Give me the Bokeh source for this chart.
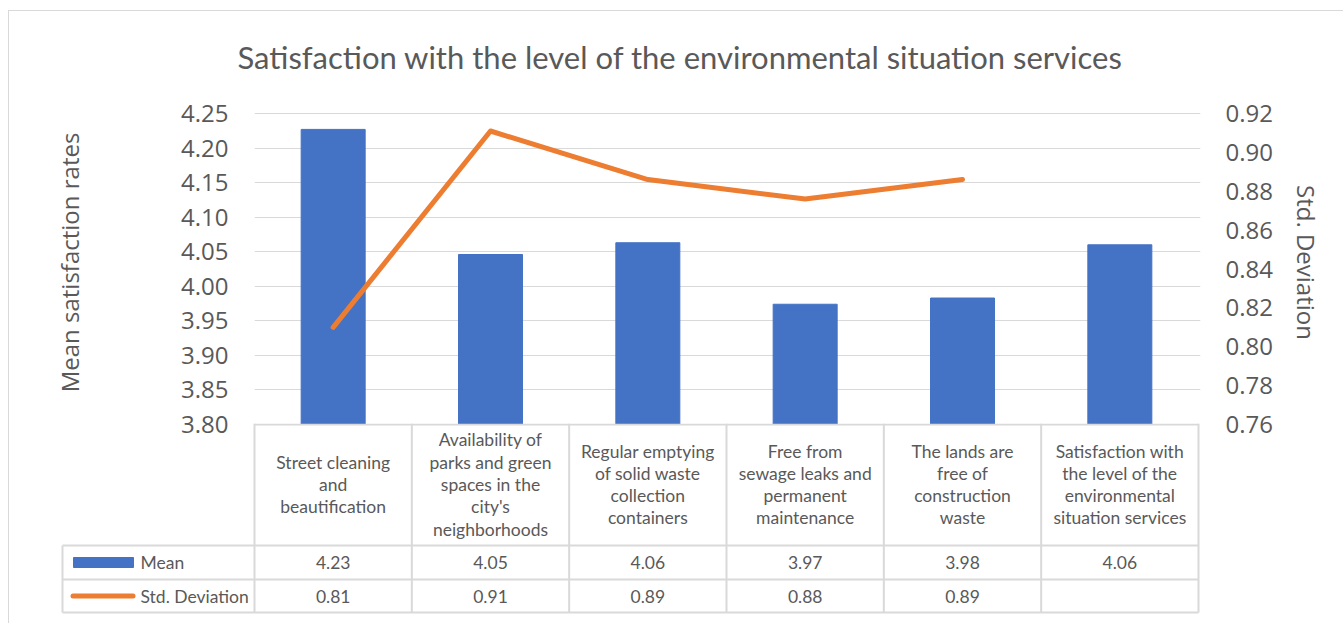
from bokeh.plotting import figure
from bokeh.models import Range1d, LinearAxis, FixedTicker, Title, PrintfTickFormatter
from bokeh.embed import file_html
from bokeh.resources import INLINE
from bokeh.core.properties import value

# ---------------- data ----------------
title_text = "Satisfaction with the level of the environmental situation services"
categories = [
    "Street cleaning\nand\nbeautification",
    "Availability of\nparks and green\nspaces in the\ncity's\nneighborhoods",
    "Regular emptying\nof solid waste\ncollection\ncontainers",
    "Free from\nsewage leaks and\npermanent\nmaintenance",
    "The lands are\nfree of\nconstruction\nwaste",
    "Satisfaction with\nthe level of the\nenvironmental\nsituation services",
]
mean_values = [4.227, 4.046, 4.063, 3.974, 3.983, 4.060]
std_values = [0.810, 0.911, 0.886, 0.876, 0.886, float("nan")]
series_names = ["Mean", "Std. Deviation"]
left_ticks = [3.80, 3.85, 3.90, 3.95, 4.00, 4.05, 4.10, 4.15, 4.20, 4.25]
right_ticks = [0.76, 0.78, 0.80, 0.82, 0.84, 0.86, 0.88, 0.90, 0.92]
left_label = "Mean satisfaction rates"
right_label = "Std. Deviation"

# ---------------- styles ----------------
BLUE = "#4472C4"
ORANGE = "#ED7D31"
TXT = "#595959"
GRID = "#d9d9d9"
TICK_FONT = "Open Sans"
TABLE_FONT = "Lato"

N = len(categories)
xs = [i + 0.5 for i in range(N)]
PX = 944.0 / N           # pixels per category
PLOT_H = 311.0           # pixel height between lowest and highest tick
EXTRA_TOP = 13.0         # pixels above top tick inside frame
EXTRA_R = 2.0            # pixels right of last category inside frame
OVERLAP = 22             # px the table figure overlaps the chart figure

lo, hi = left_ticks[0], left_ticks[-1]
rlo, rhi = right_ticks[0], right_ticks[-1]
y_top = hi + EXTRA_TOP * (hi - lo) / PLOT_H
r_top = rhi + EXTRA_TOP * (rhi - rlo) / PLOT_H

p = figure(width=1335, height=413 + OVERLAP, output_backend="svg", toolbar_location=None,
           x_range=Range1d(0, N + EXTRA_R / PX), y_range=Range1d(lo, y_top),
           x_axis_location=None, min_border_left=245, min_border_right=144,
           min_border_top=89, min_border_bottom=OVERLAP,
           styles={"margin-top": "10px", "margin-left": "8px",
                   "border-top": "1px solid #d9d9d9", "border-left": "1px solid #d9d9d9"})
p.outline_line_color = None

p.extra_y_ranges = {"std": Range1d(rlo, r_top)}

ya = p.yaxis[0]
ya.ticker = FixedTicker(ticks=left_ticks)
ya.formatter = PrintfTickFormatter(format="%.2f")
ra = LinearAxis(y_range_name="std", ticker=FixedTicker(ticks=right_ticks),
                formatter=PrintfTickFormatter(format="%.2f"))
p.add_layout(ra, "right")
for ax, lab, so, lso in ((ya, left_label, 26, 92), (ra, right_label, 25, 14)):
    ax.axis_line_color = None
    ax.major_tick_line_color = None
    ax.minor_tick_line_color = None
    ax.major_tick_out = 0
    ax.major_tick_in = 0
    ax.major_label_standoff = so
    ax.major_label_text_font = TICK_FONT
    ax.major_label_text_font_size = "24px"
    ax.major_label_text_color = TXT
    ax.axis_label = lab
    ax.axis_label_text_font = TICK_FONT
    ax.axis_label_text_font_size = "24px"
    ax.axis_label_text_font_style = "normal"
    ax.axis_label_text_color = TXT
    ax.axis_label_standoff = lso

p.ygrid.ticker = FixedTicker(ticks=left_ticks)
p.ygrid.grid_line_color = GRID
p.ygrid.grid_line_width = 1
p.xgrid.visible = False

p.add_layout(Title(text=title_text, align="left", offset=-17,
                   text_font=TABLE_FONT, text_font_size="31px",
                   text_font_style="normal", text_color=TXT, standoff=49), "above")

p.vbar(x=xs, top=mean_values, bottom=lo, width=64.0 / PX, color=BLUE)
p.line(x=xs, y=std_values, y_range_name="std", line_color=ORANGE, line_width=5,
       line_join="round", line_cap="round")

# ---------------- data table below ----------------
LEG_W = 192.0           # legend column width (px)
FRAME_PAD = 2.0
HEAD_H, ROW1, ROW2 = 122.0, 156.0, 189.0
xl = -(LEG_W + FRAME_PAD) / PX
t = figure(width=1335, height=200, output_backend="svg", toolbar_location=None,
           x_range=Range1d(xl, N + EXTRA_R / PX), y_range=Range1d(200, 0),
           x_axis_location=None, y_axis_location=None,
           min_border_left=51, min_border_right=144, min_border_top=0, min_border_bottom=0,
           styles={"margin-top": f"-{OVERLAP}px", "margin-left": "8px",
                   "border-left": "1px solid #d9d9d9"})
t.outline_line_color = None
t.background_fill_color = None
t.border_fill_color = None
t.xgrid.visible = False
t.ygrid.visible = False

leg_x = -LEG_W / PX
segs_x0 = [0] + list(range(0, N + 1)) + [leg_x, leg_x, leg_x, leg_x]
segs_x1 = [N] + list(range(0, N + 1)) + [leg_x, N, N, N]
segs_y0 = [1] + [0] * (N + 1) + [HEAD_H, HEAD_H, ROW1, ROW2]
segs_y1 = [1] + [ROW2] * (N + 1) + [ROW2, HEAD_H, ROW1, ROW2]
t.segment(x0=segs_x0, y0=segs_y0, x1=segs_x1, y1=segs_y1, line_color=GRID, line_width=2)

mid1 = (HEAD_H + ROW1) / 2
mid2 = (ROW1 + ROW2) / 2
tkw = dict(text_font=value(TABLE_FONT), text_font_size="17.5px", text_color=TXT,
           text_baseline="middle")
t.text(x=xs, y=[HEAD_H / 2] * N, text=categories, text_align="center",
       text_line_height=1.06, **tkw)
t.text(x=xs, y=[mid1] * N, text=[f"{v:.2f}" for v in mean_values], text_align="center", **tkw)
sx = [x for x, v in zip(xs, std_values) if v == v]
st = [f"{v:.2f}" for v in std_values if v == v]
t.text(x=sx, y=[mid2] * len(sx), text=st, text_align="center", **tkw)

# legend keys
t.quad(left=[-181 / PX], right=[-121 / PX], top=[mid1 - 5], bottom=[mid1 + 5], color=BLUE)
t.segment(x0=[-181.5 / PX], x1=[-121.5 / PX], y0=[mid2], y1=[mid2], line_color=ORANGE,
          line_width=5, line_cap="round")
t.text(x=[-114 / PX] * 2, y=[mid1, mid2], text=series_names, text_align="left", **tkw)

open("out.html", "w").write(file_html([p, t], INLINE))
